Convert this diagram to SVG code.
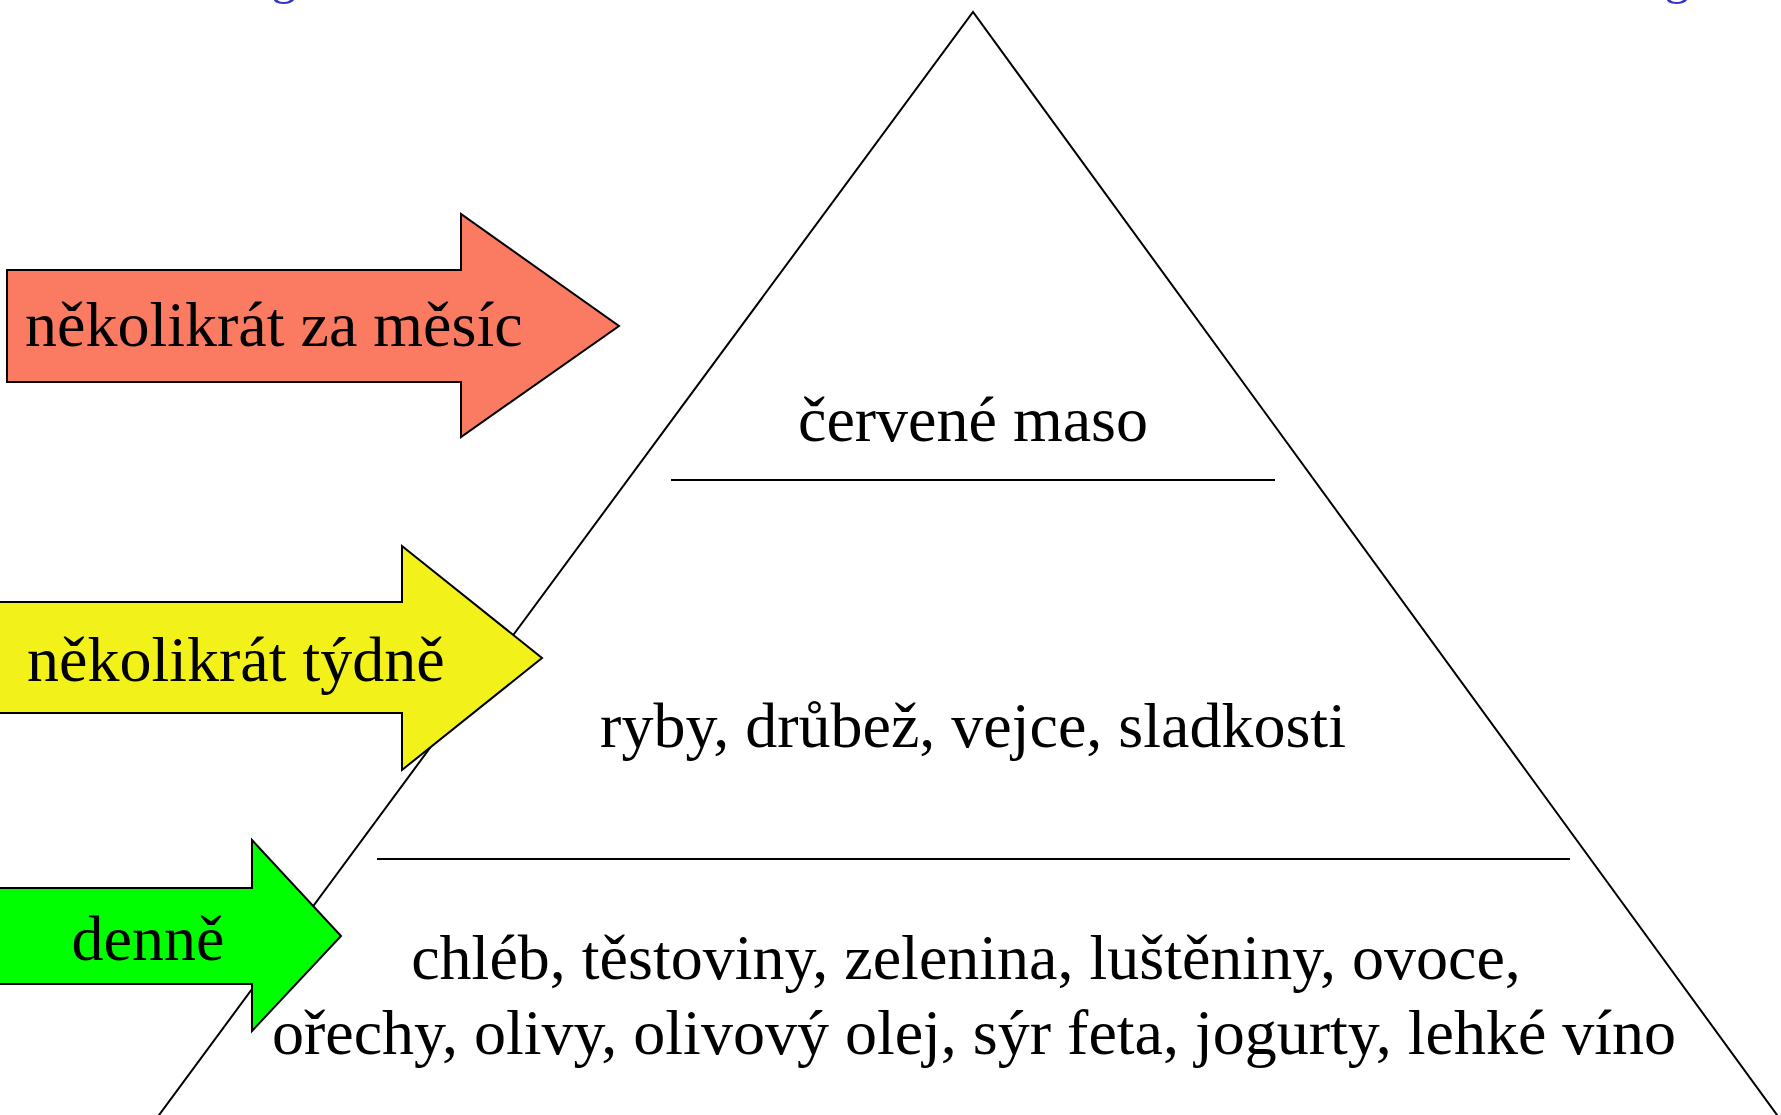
<svg xmlns="http://www.w3.org/2000/svg" width="1781" height="1115" viewBox="0 0 1781 1115">
<style>
  .t { font-family: "Liberation Serif", "Times New Roman", serif; font-size: 64px; fill: #000; }
  .c { text-anchor: middle; }
  .ln { stroke: #000; stroke-width: 2; fill: none; }
  .arr { stroke: #000; stroke-width: 2; stroke-linejoin: miter; }
  .frag { font-family: "Liberation Serif", "Times New Roman", serif; font-size: 50px; fill: #3333CC; text-anchor: middle; }
</style>
<rect width="1781" height="1115" fill="#fff"/>
<g id="title-fragments">
  <text class="frag" x="284" y="-7">g</text>
  <text class="frag" x="1677" y="-7">g</text>
</g>
<g id="pyramid">
  <polyline class="ln" points="148,1130 973,12 1788,1130"/>
  <line class="ln" x1="671" y1="480" x2="1275" y2="480"/>
  <line class="ln" x1="377" y1="859" x2="1570" y2="859"/>
</g>
<g id="tier-top">
  <text class="t c" x="973" y="441">červené maso</text>
</g>
<g id="tier-middle">
  <text class="t c" x="973" y="747">ryby, drůbež, vejce, sladkosti</text>
</g>
<g id="tier-bottom">
  <text class="t c" x="966" y="979">chléb, těstoviny, zelenina, luštěniny, ovoce,</text>
  <text class="t c" x="974" y="1054">ořechy, olivy, olivový olej, sýr feta, jogurty, lehké víno</text>
</g>
<g id="arrow-monthly">
  <polygon class="arr" fill="#FA7B62" points="7,270 461,270 461,214 619,326 461,437 461,382 7,382"/>
  <text class="t" x="25" y="346">několikrát za měsíc</text>
</g>
<g id="arrow-weekly">
  <polygon class="arr" fill="#F2F21A" points="-2,602 402,602 402,546 542,658 402,770 402,713 -2,713"/>
  <text class="t" x="27" y="681">několikrát týdně</text>
</g>
<g id="arrow-daily">
  <polygon class="arr" fill="#00FF00" points="-2,888 252,888 252,840 341,936 252,1031 252,984 -2,984"/>
  <text class="t c" x="148" y="960">denně</text>
</g>
</svg>
